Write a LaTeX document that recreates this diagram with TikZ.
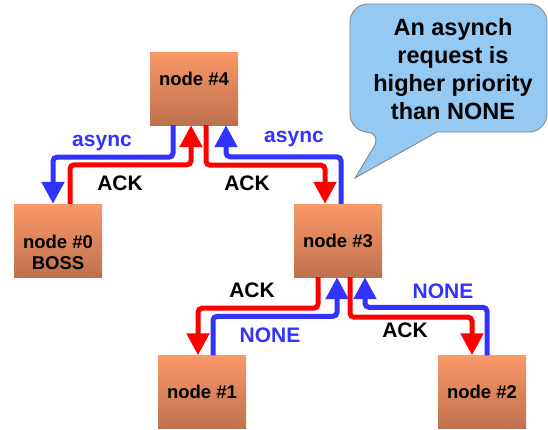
\documentclass[tikz,border=0pt]{standalone}
\usepackage{fontspec}
\setmainfont{Liberation Sans}
\usetikzlibrary{arrows.meta,calc}
\definecolor{boxtop}{RGB}{250,152,104}
\definecolor{boxbot}{RGB}{190,113,78}
\definecolor{msgblue}{RGB}{51,51,255}
\definecolor{msgred}{RGB}{255,0,0}
\definecolor{notefill}{RGB}{148,201,243}
\definecolor{noteline}{RGB}{128,128,128}
\begin{document}
\begin{tikzpicture}[x=1pt,y=-1pt,
  box/.style={rectangle, minimum width=88pt, minimum height=73pt, inner sep=0pt,
    top color=boxtop, bottom color=boxbot, align=center,
    font=\fontsize{18.5}{21}\selectfont\bfseries},
  boxtext/.style={align=center, inner sep=0pt, font=\fontsize{18.5}{21}\selectfont\bfseries},
  lbl/.style={inner sep=0pt, font=\fontsize{21}{24}\selectfont\bfseries},
  bluelbl/.style={lbl, text=msgblue},
  msg/.style={line width=5pt, rounded corners=4pt,
    -{Triangle[width=22pt,length=22pt]}},
  bluemsg/.style={msg, draw=msgblue},
  redmsg/.style={msg, draw=msgred},
  callout/.style={fill=notefill, draw=noteline, line width=0.8pt},
  notetext/.style={align=center, inner sep=0pt,
    font=\fontsize{23.5}{28}\selectfont\bfseries}]

\useasboundingbox[fill=white] (0,0) rectangle (548,429);

% processor boxes
\node[box] (n4) at (194,88.5) {};
\node[boxtext] (n4text) at ($(n4)+(0,-10)$) {node \#4};
\node[box] (n0) at (58,240.5) {};
\node[boxtext] (n0text) at ($(n0)+(0,12)$) {node \#0\\BOSS};
\node[box] (n3) at (338,240.5) {node \#3};
\node[box] (n1) at (202,392) {node \#1};
\node[box] (n2) at (482,392) {node \#2};

% messages between node #4 and its children
\draw[bluemsg] ($(n4.south)+(-21,0)$) -- ++(0,32) -| ($(n0.north)+(-5,0)$);
\draw[redmsg]  ($(n0.north)+(12,0)$) -- ++(0,-39) -| ($(n4.south)+(-3,0)$);
\draw[redmsg]  ($(n4.south)+(12,0)$) -- ++(0,40) -| ($(n3.north)+(-13,0)$);
\draw[bluemsg] ($(n3.north)+(3,0)$) -- ++(0,-47) -| ($(n4.south)+(32,0)$);

% messages between node #3 and its children
\draw[redmsg]  ($(n3.south)+(-20,0)$) -- ++(0,31) -| ($(n1.north)+(-4,0)$);
\draw[bluemsg] ($(n1.north)+(11,0)$) -- ++(0,-39) -| ($(n3.south)+(-1,0)$);
\draw[redmsg]  ($(n3.south)+(12,0)$) -- ++(0,40) -| ($(n2.north)+(-10,0)$);
\draw[bluemsg] ($(n2.north)+(5,0)$) -- ++(0,-48) -| ($(n3.south)+(27,0)$);

% message labels
\node[bluelbl] (l1) at (102,143) {async};
\node[lbl]     (l2) at (120,183) {ACK};
\node[lbl]     (l3) at (247,183) {ACK};
\node[bluelbl] (l4) at (294,139) {async};
\node[lbl]     (l5) at (252,290) {ACK};
\node[bluelbl] (l6) at (270,335) {NONE};
\node[bluelbl] (l7) at (443,291) {NONE};
\node[lbl]     (l8) at (405,330) {ACK};

% speech bubble
\draw[callout, rounded corners=18pt] (490,132) -- (547,132) -- (547,4) -- (350,4)
  -- (350,132) -- (383,132) {[sharp corners] -- (355,178) -- (437,132)} -- cycle;
\node[notetext] (note) at (453,69) {An asynch\\request is\\higher priority\\than NONE};
\end{tikzpicture}
\end{document}
